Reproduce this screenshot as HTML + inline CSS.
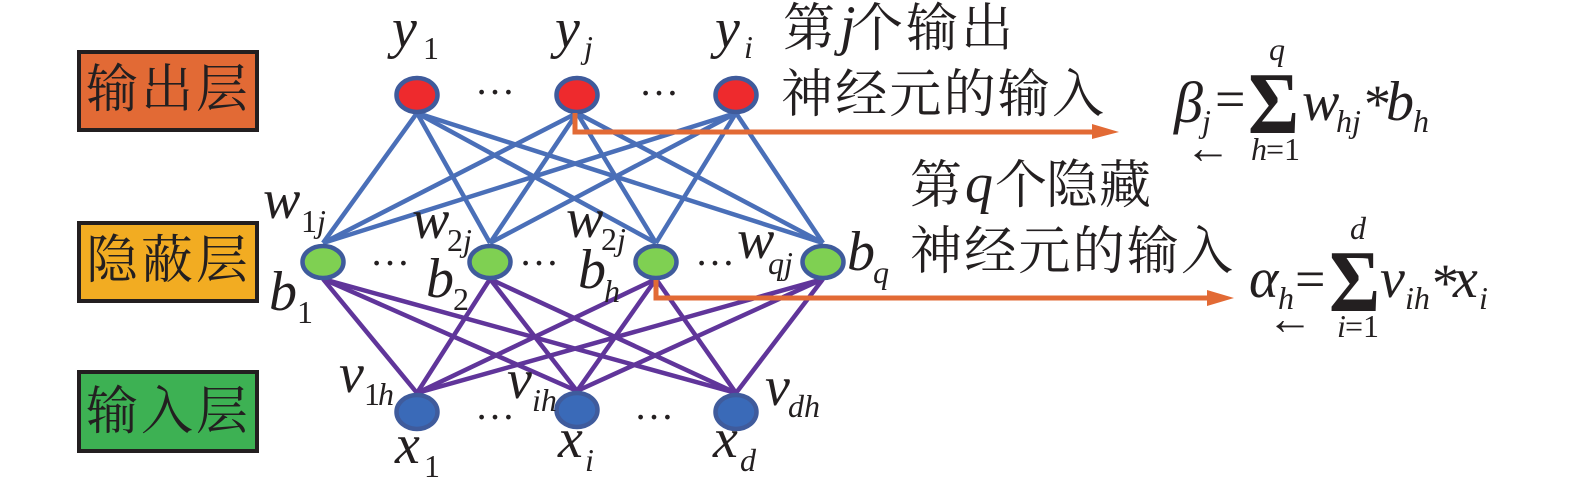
<!DOCTYPE html>
<html><head><meta charset="utf-8"><style>
html,body{margin:0;padding:0;background:#fff;width:1575px;height:495px;overflow:hidden}
svg{display:block}
text{fill:#231f20;font-family:"Liberation Serif","Noto Serif CJK SC",serif}
.v{font-style:italic;font-size:56px}
.s{font-style:italic;font-size:32px}
.n{font-size:32px}
.d{font-size:40px}
.c{font-size:52px;font-family:"Noto Serif CJK SC","Liberation Serif",serif;font-weight:400}
.l{letter-spacing:2.2px}
.k{letter-spacing:3px}
.b line{stroke:#4a6fb8;stroke-width:4.5}
.p line{stroke:#60359a;stroke-width:4.5}
ellipse{stroke:#3f5b9c;stroke-width:4.5}
rect{stroke:#231f20;stroke-width:4}
</style></head><body>
<svg width="1575" height="495" viewBox="0 0 1575 495" xmlns="http://www.w3.org/2000/svg">
<rect x="79" y="52" width="178" height="78" fill="#e26a35"/>
<rect x="79" y="223" width="178" height="78" fill="#f2ac22"/>
<rect x="79" y="372" width="178" height="79" fill="#3db153"/>
<text class="c k" x="86" y="107">输出层</text>
<text class="c k" x="86" y="278">隐蔽层</text>
<text class="c k" x="86" y="429">输入层</text>

<g class="b">
<line x1="417" y1="113" x2="323" y2="243"/><line x1="417" y1="113" x2="490" y2="243"/><line x1="417" y1="113" x2="656" y2="243"/><line x1="417" y1="113" x2="823" y2="243"/>
<line x1="577" y1="113" x2="323" y2="243"/><line x1="577" y1="113" x2="490" y2="243"/><line x1="577" y1="113" x2="656" y2="243"/><line x1="577" y1="113" x2="823" y2="243"/>
<line x1="736" y1="113" x2="323" y2="243"/><line x1="736" y1="113" x2="490" y2="243"/><line x1="736" y1="113" x2="656" y2="243"/><line x1="736" y1="113" x2="823" y2="243"/>
</g>
<g class="p">
<line x1="323" y1="279" x2="417" y2="393"/><line x1="323" y1="279" x2="577" y2="391"/><line x1="323" y1="279" x2="736" y2="393"/>
<line x1="490" y1="279" x2="417" y2="393"/><line x1="490" y1="279" x2="577" y2="391"/><line x1="490" y1="279" x2="736" y2="393"/>
<line x1="656" y1="279" x2="417" y2="393"/><line x1="656" y1="279" x2="577" y2="391"/><line x1="656" y1="279" x2="736" y2="393"/>
<line x1="823" y1="279" x2="417" y2="393"/><line x1="823" y1="279" x2="577" y2="391"/><line x1="823" y1="279" x2="736" y2="393"/>
</g>

<ellipse cx="417" cy="95" rx="20.5" ry="17" fill="#ee2a2d"/>
<ellipse cx="577" cy="95" rx="20.5" ry="17" fill="#ee2a2d"/>
<ellipse cx="736" cy="95" rx="20.5" ry="17" fill="#ee2a2d"/>
<ellipse cx="323" cy="262" rx="20.5" ry="16" fill="#7fd052"/>
<ellipse cx="490" cy="262" rx="20.5" ry="16" fill="#7fd052"/>
<ellipse cx="656" cy="262" rx="20.5" ry="16" fill="#7fd052"/>
<ellipse cx="823" cy="262" rx="20.5" ry="16" fill="#7fd052"/>
<ellipse cx="417" cy="412" rx="20.5" ry="17" fill="#3a6ab8"/>
<ellipse cx="577" cy="410" rx="20.5" ry="17" fill="#3a6ab8"/>
<ellipse cx="736" cy="412" rx="20.5" ry="17" fill="#3a6ab8"/>

<path d="M575 113V132H1094" fill="none" stroke="#e26a35" stroke-width="5"/>
<polygon points="1092,124 1119,132 1092,139" fill="#e26a35"/>
<path d="M656 280V298H1209" fill="none" stroke="#e26a35" stroke-width="5"/>
<polygon points="1207,290 1234,298 1207,306" fill="#e26a35"/>

<text class="d" x="475" y="94">…</text>
<text class="d" x="639" y="95">…</text>
<text class="d" x="370" y="265">…</text>
<text class="d" x="519" y="265">…</text>
<text class="d" x="695" y="265">…</text>
<text class="d" x="475" y="419">…</text>
<text class="d" x="634" y="419">…</text>

<text class="v" x="392" y="47">y</text><text class="n" x="423" y="59">1</text>
<text class="v" x="555" y="47">y</text><text class="s" x="584" y="58">j</text>
<text class="v" x="715" y="47">y</text><text class="s" x="744" y="58">i</text>

<text class="v" x="263" y="218">w</text><text class="n" x="301" y="232">1</text><text class="s" x="317" y="232">j</text>
<text class="v" x="412" y="238">w</text><text class="n" x="447" y="251">2</text><text class="s" x="463" y="251">j</text>
<text class="v" x="566" y="237">w</text><text class="n" x="601" y="250">2</text><text class="s" x="617" y="250">j</text>
<text class="v" x="737" y="258">w</text><text class="s" x="768" y="274">qj</text>

<text class="v" x="269" y="310">b</text><text class="n" x="297" y="323">1</text>
<text class="v" x="426" y="297">b</text><text class="n" x="453" y="310">2</text>
<text class="v" x="578" y="288">b</text><text class="s" x="604" y="302">h</text>
<text class="v" x="847" y="270">b</text><text class="s" x="873" y="283">q</text>

<text class="v" x="339" y="392">v</text><text class="n" x="364" y="405">1</text><text class="s" x="378" y="405">h</text>
<text class="v" x="507" y="398">v</text><text class="s" x="532" y="411">ih</text>
<text class="v" x="765" y="405">v</text><text class="s" x="788" y="417">dh</text>
<text class="v" x="395" y="463">x</text><text class="n" x="424" y="477">1</text>
<text class="v" x="558" y="457">x</text><text class="s" x="585" y="471">i</text>
<text class="v" x="713" y="457">x</text><text class="s" x="740" y="471">d</text>

<text class="c" x="783" y="46">第</text><text class="v" x="840" y="44">j</text><text class="c" x="851" y="46">个</text><text class="c" x="906" y="46">输</text><text class="c" x="961" y="46">出</text>
<text class="c l" x="781" y="112">神经元的输入</text>
<text class="c" x="910" y="203">第</text><text class="v" x="965" y="202">q</text><text class="c" x="995" y="203">个</text><text class="c" x="1046" y="203">隐</text><text class="c" x="1099" y="203">藏</text>
<text class="c l" x="910" y="269">神经元的输入</text>

<text class="v" x="1174" y="122" style="font-size:58px">β</text><text class="s" x="1202" y="132">j</text>
<text x="1185" y="163" style="font-size:46px">←</text>
<text x="1215" y="117" style="font-size:54px">=</text>
<text x="1248" y="133" textLength="51" lengthAdjust="spacingAndGlyphs" style="font-size:88px;font-weight:bold">Σ</text>
<text class="s" x="1269" y="60">q</text>
<text class="s" x="1251" y="160">h</text><text class="n" x="1266" y="160">=1</text>
<text class="v" x="1302" y="120">w</text><text class="s" x="1336" y="132">hj</text>
<text x="1364" y="122" style="font-size:54px">*</text>
<text class="v" x="1386" y="120">b</text><text class="s" x="1413" y="132">h</text>

<text class="v" x="1249" y="297">α</text><text class="s" x="1278" y="309">h</text>
<text x="1267" y="334" style="font-size:46px">←</text>
<text x="1295" y="297" style="font-size:54px">=</text>
<text x="1329" y="311" textLength="51" lengthAdjust="spacingAndGlyphs" style="font-size:88px;font-weight:bold">Σ</text>
<text class="s" x="1350" y="239">d</text>
<text class="s" x="1337" y="337">i</text><text class="n" x="1345" y="337">=1</text>
<text class="v" x="1380" y="297">v</text><text class="s" x="1405" y="309">ih</text>
<text x="1432" y="301" style="font-size:54px">*</text>
<text class="v" x="1453" y="297">x</text><text class="s" x="1479" y="309">i</text>
</svg>
</body></html>
